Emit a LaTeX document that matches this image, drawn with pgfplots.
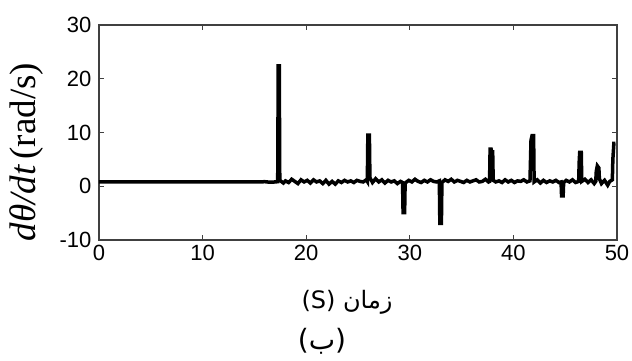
\documentclass[border=0pt]{standalone}
\usepackage{fontspec}
\setmainfont{Liberation Sans}
\newfontfamily\seriffont{Liberation Serif}
\newfontfamily\dejavu{DejaVu Sans}
\newfontfamily\arabicfont[Script=Arabic]{DejaVu Sans}
\TeXXeTstate=1
\usepackage{pgfplots}
\pgfplotsset{compat=1.18}
\begin{document}
\begin{tikzpicture}
\useasboundingbox (-99pt,-120pt) rectangle (533pt,240pt);
\begin{axis}[
  at={(0pt,0pt)}, anchor=south west,
  scale only axis, width=518pt, height=215pt,
  xmin=0, xmax=50, ymin=-10, ymax=30,
  xtick={0,10,20,30,40,50}, ytick={-10,0,10,20,30},
  tick align=inside, tick pos=both,
  major tick length=5pt,
  axis line style={draw=black!75, line width=1.1pt},
  every tick/.style={black!75, line width=0.9pt},
  ticklabel style={font=\fontsize{22}{24}\selectfont},
  /pgf/number format/assume math mode=true,
  xticklabel style={yshift=-2pt},
  yticklabel style={xshift=-4pt},
  clip=false,
]
\addplot[black, line width=3.5pt, line join=miter] coordinates {
(0,0.8) (15.5,0.8) (16,0.85) (16.5,0.75) (17,0.8) (17.25,0.85)
(17.3,22.4) (17.4,22.4) (17.45,1.1)
(17.8,0.6) (18.0,1.0) (18.3,0.7) (18.6,1.3) (18.9,0.9) (19.2,0.5) (19.5,1.2)
(19.8,0.8) (20.1,1.1) (20.4,0.6) (20.7,1.2) (21.0,0.8) (21.3,1.0) (21.6,0.5)
(21.9,1.1) (22.2,0.4) (22.5,0.9) (22.8,0.4) (23.1,1.0) (23.4,0.7) (23.7,1.1)
(24.0,0.8) (24.3,1.0) (24.6,0.7) (24.9,1.1) (25.2,0.9) (25.5,0.8) (25.8,1.2)
(25.9,0.9) (25.95,9.5) (26.1,9.5) (26.15,1.6)
(26.4,0.7) (26.7,1.4) (27.0,0.8) (27.3,1.2) (27.6,0.6) (27.9,1.1) (28.2,0.8)
(28.5,1.0) (28.8,0.5) (29.1,0.9) (29.3,0.7)
(29.35,-4.9) (29.5,-4.9) (29.55,0.6)
(29.9,1.1) (30.2,0.8) (30.5,1.3) (30.8,0.9) (31.1,0.7) (31.4,1.1) (31.7,0.8)
(32.0,1.2) (32.3,0.9) (32.6,0.8) (32.85,1.0)
(32.9,-6.9) (33.05,-6.9) (33.1,0.7)
(33.4,1.2) (33.7,0.9) (34.0,1.3) (34.3,0.8) (34.6,1.1) (34.9,0.9) (35.2,0.7)
(35.5,1.1) (35.8,0.8) (36.1,1.0) (36.4,1.2) (36.7,0.8) (37.0,0.9) (37.3,1.3)
(37.6,0.8) (37.7,0.9)
(37.75,6.9) (37.85,6.9) (37.9,6.4) (38.0,6.4) (38.05,1.1)
(38.3,0.8) (38.6,1.0) (38.9,0.7) (39.2,1.2) (39.5,0.8) (39.8,1.1) (40.1,0.7)
(40.4,1.0) (40.7,0.9) (41.0,1.2) (41.3,0.8) (41.6,1.0)
(41.7,8.6) (41.8,9.4) (41.95,9.4) (42.0,0.8)
(42.3,1.2) (42.6,0.6) (42.9,1.1) (43.2,0.7) (43.5,1.0) (43.8,0.8) (44.1,1.1)
(44.4,0.7) (44.6,0.8)
(44.65,-1.8) (44.8,-1.8) (44.85,0.7)
(45.1,1.1) (45.4,0.8) (45.7,1.2) (46.0,0.7) (46.3,0.9)
(46.35,4.5) (46.4,6.3) (46.55,6.3) (46.6,0.9)
(46.9,1.3) (47.2,0.7) (47.5,1.2) (47.8,0.5) (47.95,0.9)
(48.0,2.8) (48.1,3.8) (48.25,3.4) (48.3,1.4)
(48.5,0.5) (48.8,1.1) (49.1,0.2) (49.3,0.9) (49.55,1.2)
(49.6,5.0) (49.7,8.0) (49.85,8.0)
};
\end{axis}
\node[rotate=90, font=\fontsize{37}{40}\selectfont\seriffont] at (-72pt,88pt) {\itshape dθ/dt\upshape\,(rad/s)};
\node[font=\fontsize{24}{28}\selectfont\dejavu] at (248pt,-62pt) {(S) {\arabicfont\beginR زمان\endR}};
\node[font=\fontsize{28}{32}\selectfont\dejavu] at (223pt,-101pt) {({\arabicfont\beginR ب\endR})};
\end{tikzpicture}
\end{document}
